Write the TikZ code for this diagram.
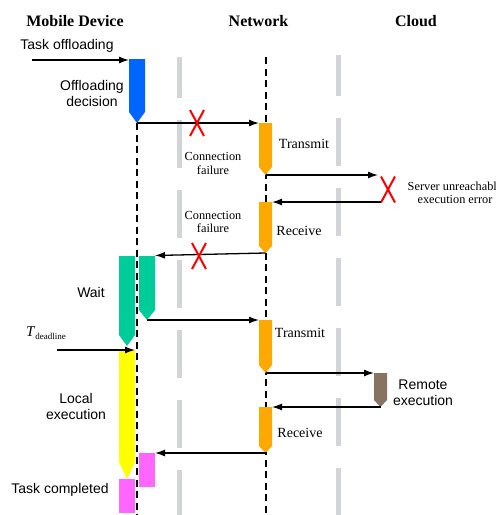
\documentclass[tikz,border=0pt]{standalone}
\usepackage{fontspec}
\setmainfont{Liberation Serif}
\newfontfamily\sansf{Liberation Sans}
\usetikzlibrary{arrows.meta}
\definecolor{blueblk}{RGB}{0,102,255}
\definecolor{orangeblk}{RGB}{255,168,0}
\definecolor{tealblk}{RGB}{0,204,153}
\definecolor{yellowblk}{RGB}{255,255,0}
\definecolor{magentablk}{RGB}{255,102,255}
\definecolor{brownblk}{RGB}{138,114,96}
\definecolor{gridgray}{RGB}{210,212,216}
\tikzset{
  lifeline/.style={black, line width=1.3pt, dash pattern=on 7pt off 4.5pt},
  gridline/.style={gridgray, line width=5pt, dash pattern=on 48pt off 22pt, dash phase=7pt},
  msg/.style={line width=1.3pt, -{Latex[length=10pt,width=7pt]}},
  xmark/.style={red, line width=2pt},
  titletxt/.style={font=\bfseries\fontsize{16}{19}\selectfont},
  sanslbl/.style={font=\sansf\fontsize{14}{16.5}\selectfont, align=center},
  seriflbl/.style={font=\fontsize{14}{16}\selectfont, align=center},
  smallserif/.style={font=\fontsize{12.3}{13.5}\selectfont, align=center},
}
% name, x-left, x-right, y-top, y-rect-bottom, y-tip, colour
\newcommand\actblk[7]{%
  \fill[#7] (#2,#4) -- (#3,#4) -- (#3,#5) -- ({(#2+#3)/2},#6) -- (#2,#5) -- cycle;
  \coordinate (#1-tl) at (#2,#4);
  \coordinate (#1-tr) at (#3,#4);
  \coordinate (#1-tip) at ({(#2+#3)/2},#6);
}
% name, x, y
\newcommand\failx[3]{%
  \coordinate (#1) at (#2,#3);
  \draw[xmark] ([shift={(-7,-13)}]#1) -- ([shift={(7,13)}]#1);
  \draw[xmark] ([shift={(7,-13)}]#1) -- ([shift={(-7,13)}]#1);
}
\begin{document}
\begin{tikzpicture}[x=1pt,y=-1pt]
\useasboundingbox (0,0) rectangle (496,515);
\clip (0,0) rectangle (496,515);

% titles
\node[titletxt] (tmob) at (75,21) {Mobile Device};
\node[titletxt] (tnet) at (258.5,21) {Network};
\node[titletxt] (tcld) at (416,21) {Cloud};

% grey separators
\draw[gridline] (179,57) -- (179,515);
\draw[gridline] (338,55) -- (338,515);

% lifelines
\draw[lifeline] (137,123) -- (137,515);
\draw[lifeline] (266,57) -- (266,515);

% activity blocks
\actblk{blue}{129}{145}{59}{112}{123}{blueblk}
\actblk{oa}{259}{272}{123}{167}{175}{orangeblk}
\actblk{ob}{259}{272}{202}{246}{253}{orangeblk}
\actblk{twl}{119}{135}{256}{335}{346}{tealblk}
\actblk{twr}{139}{155}{256}{310}{320}{tealblk}
\actblk{oc}{259}{272}{320}{365}{373}{orangeblk}
\actblk{yel}{119}{135}{350}{462}{479}{yellowblk}
\actblk{brn}{374}{387}{373}{400}{407}{brownblk}
\actblk{od}{259}{272}{407}{446}{453}{orangeblk}
\fill[magentablk] (139,453) rectangle (155,487);
\coordinate (mr-tr) at (155,453);
\fill[magentablk] (119,479) rectangle (135,513);

% connectors
\coordinate (tin) at (32,60);
\coordinate (blue-l) at (129,60);
\draw[msg] (tin) -- (blue-l);
\draw[msg] (blue-tip) -- (oa-tl);
\failx{xa}{197}{123}
\coordinate (srv-in) at (378,175);
\draw[msg] (oa-tip) -- (srv-in);
\failx{xb}{388}{189.5}
\coordinate (srv-out) at (381,202);
\draw[msg] (srv-out) -- (ob-tr);
\draw[msg] (ob-tip) -- ([yshift=0.5]twr-tr);
\failx{xc}{199}{256}
\draw[msg] (twr-tip) -- (oc-tl);
\coordinate (tdl) at (57,350);
\coordinate (yel-tr) at (135,350);
\draw[msg] (tdl) -- (yel-tr);
\draw[msg] (oc-tip) -- (brn-tl);
\coordinate (brn-b) at (381,407);
\draw[msg] (brn-b) -- (od-tr);
\draw[msg] (od-tip) -- (mr-tr);

% labels
\node[sanslbl] (ltask) at (67,46) {Task offloading};
\node[sanslbl] (ldec) at (92,93.5) {Offloading\\decision};
\node[smallserif] (lcf1) at (213,163.5) {Connection\\failure};
\node[seriflbl] (ltx1) at (304,144) {Transmit};
\node[smallserif] (lsrv) at (455,193) {Server unreachable\\execution error};
\node[smallserif] (lcf2) at (213,222) {Connection\\failure};
\node[seriflbl] (lrx1) at (299,231) {Receive};
\node[sanslbl] (lwait) at (91,292) {Wait};
\node[font=\fontsize{15}{18}\selectfont, inner sep=0pt] (ltdl) at (46,333) {\textit{T}\raisebox{-3.5pt}{\fontsize{9}{10}\selectfont deadline}};
\node[seriflbl] (ltx2) at (300,333) {Transmit};
\node[sanslbl] (lloc) at (76,406.5) {Local\\execution};
\node[sanslbl] (lrem) at (423,392.5) {Remote\\execution};
\node[seriflbl] (lrx2) at (300,433) {Receive};
\node[sanslbl] (ldone) at (60,490) {Task completed};
\end{tikzpicture}
\end{document}
